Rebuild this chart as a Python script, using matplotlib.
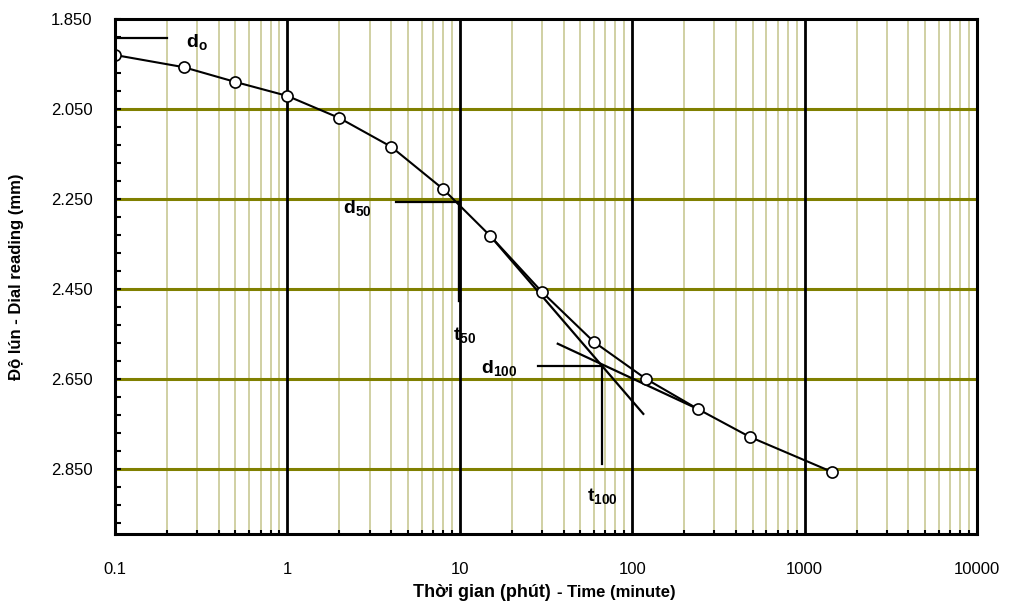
import numpy as np
import matplotlib
matplotlib.use('Agg')
import matplotlib.pyplot as plt
from matplotlib.ticker import FixedLocator, FormatStrFormatter, LogLocator, NullFormatter

plt.rcParams['font.family'] = ['Liberation Sans', 'DejaVu Sans']
plt.rcParams['mathtext.fontset'] = 'custom'
plt.rcParams['mathtext.rm'] = 'Liberation Sans'
plt.rcParams['mathtext.bf'] = 'Liberation Sans:bold'

# consolidation test readings
time_min = [0.1, 0.25, 0.5, 1, 2, 4, 8, 15, 30, 60, 120, 240, 480, 1440]
dial_mm = [1.930, 1.957, 1.990, 2.021, 2.070, 2.134, 2.228, 2.332, 2.457,
           2.568, 2.650, 2.717, 2.779, 2.857]

# construction lines (Casagrande method)
d0_x = [0.1, 0.2]
d0_y = [1.892, 1.892]
d50_x = [4.25, 9.9]
d50_y = [2.257, 2.257]
t50_x = [9.9, 9.9]
t50_y = [2.257, 2.474]
steep_x = [15, 116]
steep_y = [2.332, 2.728]
flat_x = [37, 240]
flat_y = [2.572, 2.717]
d100_x = [28.4, 67]
d100_y = [2.621, 2.621]
t100_x = [67, 67]
t100_y = [2.621, 2.839]

y_major = [1.850, 2.050, 2.250, 2.450, 2.650, 2.850]
y_minor = [1.850 + 0.04 * i for i in range(29)]

olive = '#808000'
olive_light = '#c4c48a'

fig = plt.figure(figsize=(10.11, 6.02), dpi=100)
ax = fig.add_axes([0.1137, 0.113, 0.8527, 0.8554])

ax.set_xscale('log')
ax.set_xlim(0.1, 10000)
ax.set_ylim(2.995, 1.850)

# grid
for yv in y_major[1:]:
    ax.axhline(yv, color=olive, lw=2.2, zorder=1)
for dec in [1, 10, 100, 1000]:
    ax.axvline(dec, color='black', lw=2.0, zorder=2)
for dec in [0.1, 1, 10, 100, 1000]:
    for m in range(2, 10):
        ax.axvline(dec * m, color=olive_light, lw=1.1, zorder=0.5)

# construction lines
kw = dict(color='black', lw=1.6, zorder=3)
ax.plot(d0_x, d0_y, **kw)
ax.plot(d50_x, d50_y, **kw)
ax.plot(t50_x, t50_y, color='black', lw=2.4, zorder=3)
ax.plot(steep_x, steep_y, **kw)
ax.plot(flat_x, flat_y, **kw)
ax.plot(d100_x, d100_y, **kw)
ax.plot(t100_x, t100_y, **kw)

# data curve
ax.plot(time_min, dial_mm, color='black', lw=1.5, zorder=4,
        marker='o', markersize=8, markerfacecolor='white',
        markeredgecolor='black', markeredgewidth=1.2)

# labels on construction
lab = dict(fontsize=14, color='black', zorder=5)
ax.text(0.3, 1.902, r'$\mathbf{d_o}$', ha='center', va='center', **lab)
ax.text(3.1, 2.27, r'$\mathbf{d_{50}}$', ha='right', va='center', **lab)
ax.text(10.6, 2.552, r'$\mathbf{t_{50}}$', ha='center', va='center', **lab)
ax.text(21.5, 2.625, r'$\mathbf{d_{100}}$', ha='right', va='center', **lab)
ax.text(67, 2.91, r'$\mathbf{t_{100}}$', ha='center', va='center', **lab)

# ticks
ax.yaxis.set_major_locator(FixedLocator(y_major))
ax.yaxis.set_minor_locator(FixedLocator(y_minor))
ax.yaxis.set_major_formatter(FormatStrFormatter('%.3f'))
ax.xaxis.set_major_locator(FixedLocator([0.1, 1, 10, 100, 1000, 10000]))
ax.xaxis.set_minor_locator(LogLocator(base=10, subs=np.arange(2, 10)))
ax.xaxis.set_minor_formatter(NullFormatter())
ax.set_xticklabels(['0.1', '1', '10', '100', '1000', '10000'])
ax.tick_params(axis='both', which='both', direction='in', color='black',
               labelsize=12)
ax.tick_params(axis='y', which='major', length=4, width=1.5, pad=16)
ax.tick_params(axis='y', which='minor', length=4, width=1.5)
ax.tick_params(axis='x', which='major', length=0, pad=20)
ax.tick_params(axis='x', which='minor', length=3, width=1.5)

for s in ax.spines.values():
    s.set_linewidth(2.2)
    s.set_color('black')
    s.set_zorder(6)

ax.set_ylabel('Độ lún - Dial reading (mm)', fontsize=12, fontweight='bold')
ax.yaxis.set_label_coords(-0.105, 0.5)

fig.text(0.545, 0.009, 'Thời gian (phút)', fontsize=13, fontweight='bold',
         ha='right', va='baseline')
fig.text(0.551, 0.009, '- Time (minute)', fontsize=12, fontweight='bold',
         ha='left', va='baseline')

fig.savefig('out.png', dpi=100)
